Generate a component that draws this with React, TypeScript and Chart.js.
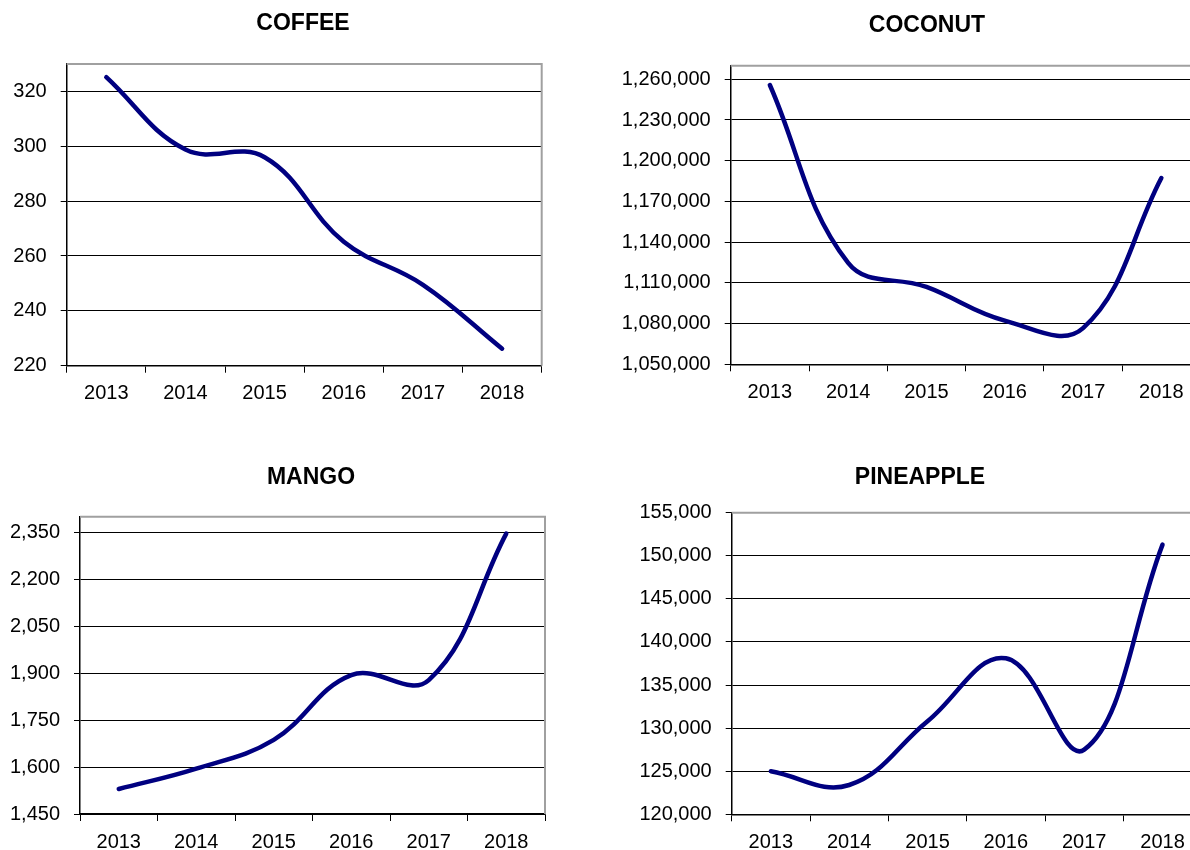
import React, { useEffect, useRef } from "react";
import { Chart, registerables } from "chart.js";

Chart.register(...registerables);

// ---- data ----
const years = ["2013", "2014", "2015", "2016", "2017", "2018"];

const coffeeValues = [325.2, 298.8, 296, 265.2, 249.5, 226.2];
const coconutValues = [1255800, 1124700, 1107000, 1082200, 1076600, 1187200];
const mangoValues = [1530, 1595, 1687, 1894, 1878, 2346];
const pineappleValues = [125000, 123400, 130800, 138100, 127500, 151300];

const coffeeTicks = [220, 240, 260, 280, 300, 320];
const coconutTicks = [1050000, 1080000, 1110000, 1140000, 1170000, 1200000, 1230000, 1260000];
const mangoTicks = [1450, 1600, 1750, 1900, 2050, 2200, 2350];
const pineappleTicks = [120000, 125000, 130000, 135000, 140000, 145000, 150000, 155000];

const coffeeRange = [220, 330];
const coconutRange = [1050000, 1270000];
const mangoRange = [1450, 2400];
const pineappleRange = [120000, 155000];

// ---- layout (positions / sizes only) ----
type Panel = {
  title: string;
  values: number[];
  ticks: number[];
  range: number[];
  left: number;
  top: number;
  w: number;
  h: number;
  pb: number;
  yW: number;
  rW: number;
  tTop: number;
  tBottom: number;
};

const panels: Panel[] = [
  { title: "COFFEE", values: coffeeValues, ticks: coffeeTicks, range: coffeeRange,
    left: 0, top: 0, w: 606, h: 425, pb: 19.3, yW: 66.7, rW: 64.3, tTop: 10.2, tBottom: 26.2 },
  { title: "COCONUT", values: coconutValues, ticks: coconutTicks, range: coconutRange,
    left: 595, top: 0, w: 664, h: 425, pb: 20.7, yW: 135.7, rW: 58.5, tTop: 12.2, tBottom: 25.9 },
  { title: "MANGO", values: mangoValues, ticks: mangoTicks, range: mangoRange,
    left: 0, top: 425, w: 622, h: 440, pb: 11, yW: 80, rW: 77, tTop: 38.7, tBottom: 25.4 },
  { title: "PINEAPPLE", values: pineappleValues, ticks: pineappleTicks, range: pineappleRange,
    left: 595, top: 425, w: 650, h: 440, pb: 10.7, yW: 136.7, rW: 43.3, tTop: 39.2, tBottom: 20.9 },
];

const FONT = "'Liberation Sans', Arial, Helvetica, sans-serif";

const framePlugin = {
  id: "plotFrame",
  beforeDatasetsDraw(chart: any) {
    const { ctx, chartArea: a } = chart;
    ctx.save();
    ctx.strokeStyle = "#a0a0a0";
    ctx.lineWidth = 2;
    ctx.beginPath();
    ctx.moveTo(a.left, a.top);
    ctx.lineTo(a.right, a.top);
    ctx.lineTo(a.right, a.bottom);
    ctx.stroke();
    ctx.restore();
  },
};

function LinePanel({ p }: { p: Panel }) {
  const ref = useRef<HTMLCanvasElement | null>(null);
  useEffect(() => {
    if (!ref.current) return;
    const chart = new Chart(ref.current, {
      type: "line",
      data: {
        labels: years,
        datasets: [
          {
            data: p.values,
            borderColor: "#000080",
            borderWidth: 4.5,
            pointRadius: 0,
            tension: 0.4,
            borderCapStyle: "round",
            fill: false,
            yAxisID: "y",
          },
        ],
      },
      plugins: [framePlugin],
      options: {
        animation: false,
        responsive: false,
        devicePixelRatio: 1,
        layout: { padding: { left: 0, right: 0, top: 0, bottom: p.pb } },
        plugins: {
          legend: { display: false },
          tooltip: { enabled: false },
          title: {
            display: true,
            text: p.title,
            color: "#000",
            font: { family: FONT, size: 23, weight: "bold" },
            padding: { top: p.tTop, bottom: p.tBottom },
          },
        },
        scales: {
          x: {
            type: "category",
            offset: true,
            grid: {
              offset: true,
              drawOnChartArea: false,
              drawTicks: true,
              tickLength: 7,
              color: "#000",
              lineWidth: 1,
            },
            border: { display: true, color: "#000", width: 1.5 },
            ticks: {
              color: "#000",
              font: { family: FONT, size: 20 },
              padding: 9,
              maxRotation: 0,
              autoSkip: false,
            },
            afterFit: (s: any) => {
              s.height = 40;
            },
          },
          y: {
            type: "linear",
            position: "left",
            min: p.range[0],
            max: p.range[1],
            afterBuildTicks: (s: any) => {
              s.ticks = p.ticks.map((v) => ({ value: v }));
            },
            afterFit: (s: any) => {
              s.width = p.yW;
            },
            grid: {
              color: "#000",
              lineWidth: 1,
              drawTicks: true,
              tickLength: 6,
            },
            border: { display: true, color: "#000", width: 1.5 },
            ticks: {
              color: "#000",
              font: { family: FONT, size: 20 },
              padding: 14,
              callback: (v: any) => Number(v).toLocaleString("en-US"),
            },
          },
          spacer: {
            type: "linear",
            position: "right",
            display: true,
            min: 0,
            max: 1,
            grid: { display: false, drawTicks: false },
            border: { display: false },
            ticks: { display: false },
            afterFit: (s: any) => {
              s.width = p.rW;
            },
          },
        },
      } as any,
    });
    return () => chart.destroy();
  }, [p]);
  return (
    <canvas
      ref={ref}
      width={p.w}
      height={p.h}
      style={{ position: "absolute", left: p.left, top: p.top, width: p.w, height: p.h }}
    />
  );
}

export default function App() {
  return (
    <div
      style={{
        position: "absolute",
        left: 0,
        top: 0,
        width: 1190,
        height: 850,
        overflow: "hidden",
        background: "#fff",
      }}
    >
      {panels.map((p) => (
        <LinePanel key={p.title} p={p} />
      ))}
    </div>
  );
}
